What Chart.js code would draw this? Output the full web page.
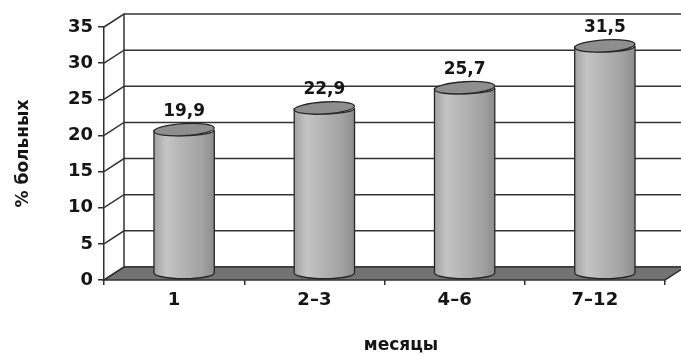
<!DOCTYPE html>
<html lang="ru">
<head>
  <meta charset="UTF-8">
  <title>% больных по месяцам</title>
  <script src="https://cdn.jsdelivr.net/npm/chart.js@4.4.0/dist/chart.umd.min.js"></script>
  <style>
    html, body { margin: 0; padding: 0; background: #fff; }
    #wrap { width: 681px; height: 355px; }
  </style>
</head>
<body>
  <div id="wrap"><canvas id="chart" width="681" height="355"></canvas></div>

  <script>
    const months = ["1", "2–3", "4–6", "7–12"]
    const patients = [19.9, 22.9, 25.7, 31.5]
    const yTicks = [0, 5, 10, 15, 20, 25, 30, 35]

    const FONT = "'DejaVu Sans', sans-serif"
    const DX = 20, DY = 13   // depth of the 3D box

    // back wall, side wall and floor, cylinders drawn over the hidden bars
    const box3d = {
      id: "box3d",
      beforeDatasetsDraw(chart) {
        const { ctx, chartArea: a, scales: { y } } = chart
        ctx.save()
        ctx.strokeStyle = "#333"
        ctx.lineWidth = 1.5
        for (const v of yTicks) {
          const py = y.getPixelForValue(v)
          ctx.beginPath()
          ctx.moveTo(a.left, py)
          ctx.lineTo(a.left + DX, py - DY)
          ctx.lineTo(chart.width + 5, py - DY)
          ctx.stroke()
        }
        ctx.beginPath()
        ctx.moveTo(a.left + DX, a.top - DY)
        ctx.lineTo(a.left + DX, a.bottom - DY)
        ctx.stroke()

        // floor
        ctx.beginPath()
        ctx.moveTo(a.left, a.bottom)
        ctx.lineTo(a.right, a.bottom)
        ctx.lineTo(a.right + DX, a.bottom - DY)
        ctx.lineTo(a.left + DX, a.bottom - DY)
        ctx.closePath()
        ctx.fillStyle = "#737373"
        ctx.fill()
        ctx.stroke()
        ctx.restore()
      },
      afterDatasetsDraw(chart) {
        const { ctx } = chart
        const meta = chart.getDatasetMeta(0)
        ctx.save()
        meta.data.forEach((el, i) => {
          const rx = el.width / 2, ry = 6
          const cx = el.x + DX / 2
          const yt = el.y - DY / 2
          const yb = el.base - DY / 2

          const g = ctx.createLinearGradient(cx - rx, 0, cx + rx, 0)
          g.addColorStop(0, "#a2a2a2")
          g.addColorStop(0.2, "#c4c4c4")
          g.addColorStop(0.5, "#b2b2b2")
          g.addColorStop(0.8, "#a2a2a2")
          g.addColorStop(1, "#8c8c8c")

          ctx.beginPath()
          ctx.moveTo(cx - rx, yt)
          ctx.lineTo(cx - rx, yb)
          ctx.ellipse(cx, yb, rx, ry, 0, Math.PI, 0, true)
          ctx.lineTo(cx + rx, yt)
          ctx.ellipse(cx, yt, rx, ry, 0, 0, Math.PI, false)
          ctx.closePath()
          ctx.fillStyle = g
          ctx.fill()
          ctx.strokeStyle = "#262626"
          ctx.lineWidth = 1.3
          ctx.stroke()

          ctx.beginPath()
          ctx.ellipse(cx, yt, rx, ry, -0.06, 0, Math.PI * 2)
          ctx.fillStyle = "#8e8e8e"
          ctx.fill()
          ctx.stroke()

          ctx.fillStyle = "#151515"
          ctx.font = "bold 17px " + FONT
          ctx.textAlign = "center"
          ctx.textBaseline = "bottom"
          ctx.fillText(String(patients[i]).replace(".", ","), cx, yt - ry - 4)
        })
        ctx.restore()
      },
      afterDraw(chart) {
        const { ctx } = chart
        ctx.save()
        ctx.fillStyle = "#151515"
        ctx.font = "bold 17px " + FONT
        ctx.textAlign = "center"
        ctx.textBaseline = "middle"
        ctx.fillText("месяцы", 401, 346)
        ctx.restore()
      }
    }

    new Chart(document.getElementById("chart"), {
      type: "bar",
      data: {
        labels: months,
        datasets: [{
          label: "% больных",
          data: patients,
          backgroundColor: "transparent",
          borderWidth: 0,
          categoryPercentage: 1,
          barPercentage: 0.43
        }]
      },
      options: {
        responsive: false,
        animation: false,
        layout: { padding: { top: 27, right: 16, left: 0, bottom: 0 } },
        plugins: { legend: { display: false }, tooltip: { enabled: false } },
        scales: {
          x: {
            offset: true,
            grid: { drawOnChartArea: false, tickLength: 5, color: "#2e2e2e", lineWidth: 1.5, offset: true },
            border: { display: false },
            ticks: { color: "#151515", font: { family: FONT, size: 18, weight: "bold" }, padding: 5 },
            afterFit(scale) { scale.height = 75 }
          },
          y: {
            min: 0,
            max: 35,
            ticks: { stepSize: 5, color: "#151515", font: { family: FONT, size: 18, weight: "bold" }, padding: 5 },
            grid: { drawOnChartArea: false, tickLength: 6, color: "#2e2e2e", lineWidth: 1.5 },
            border: { display: true, color: "#2e2e2e", width: 1.5 },
            title: {
              display: true,
              text: "% больных",
              color: "#151515",
              font: { family: FONT, size: 17, weight: "bold" },
              padding: { top: 13, bottom: 0 }
            },
            afterFit(scale) { scale.width = 104 }
          }
        }
      },
      plugins: [box3d]
    })
  </script>
</body>
</html>
